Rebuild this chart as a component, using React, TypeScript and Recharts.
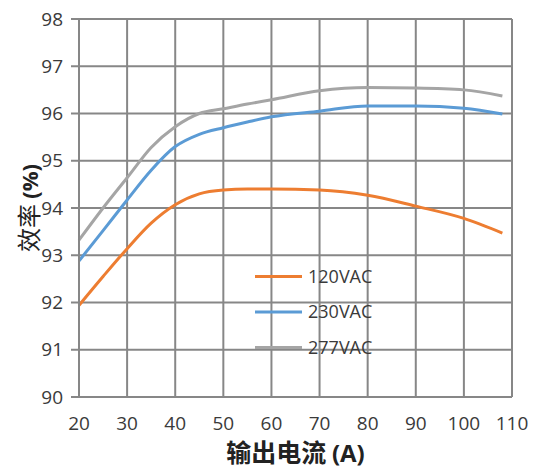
import React from 'react';
import { LineChart, Line, XAxis, YAxis, CartesianGrid, Legend, Label } from 'recharts';

const currents = [20, 25, 30, 35, 40, 45, 50, 55, 60, 70, 80, 90, 100, 108];
const eff120 = [91.94, 92.55, 93.14, 93.68, 94.07, 94.3, 94.38, 94.4, 94.4, 94.38, 94.27, 94.04, 93.78, 93.47];
const eff230 = [92.88, 93.52, 94.17, 94.8, 95.3, 95.56, 95.7, 95.82, 95.93, 96.05, 96.16, 96.16, 96.11, 95.99];
const eff277 = [93.32, 94.0, 94.64, 95.28, 95.72, 96.0, 96.1, 96.2, 96.29, 96.48, 96.55, 96.54, 96.5, 96.37];
const xTicks = [20, 30, 40, 50, 60, 70, 80, 90, 100, 110];
const yTicks = [90, 91, 92, 93, 94, 95, 96, 97, 98];
const seriesNames = ['120VAC', '230VAC', '277VAC'];

const chartData = currents.map((c, i) => ({
  current: c,
  v120: eff120[i],
  v230: eff230[i],
  v277: eff277[i],
}));

const GRID = '#878787';
const TEXT = '#3a3a3a';

const renderLegend = (props: any) => {
  const payload = props.payload || [];
  return (
    <svg width={150} height={110} style={{ overflow: 'visible', display: 'block' }}>
      {payload.map((p: any, i: number) => {
        const y = 18.5 + i * 35.5;
        return (
          <g key={i}>
            <line x1={5} x2={52} y1={y} y2={y} stroke={p.color} strokeWidth={3} />
            <text x={58} y={y} dy="0.36em" fontFamily="Open Sans" fontSize={18} fill={TEXT}>
              {p.value}
            </text>
          </g>
        );
      })}
    </svg>
  );
};

const XTitle = (props: any) => {
  const vb = props.viewBox || { x: 0, y: 0, width: 0, height: 0 };
  const cx = vb.x + vb.width / 2;
  return (
    <text x={cx} y={vb.y + 57} dy="0.35em" textAnchor="middle" fill="#222" style={{ fontSize: 24 }}>
      <tspan style={{ fontFamily: 'Noto Sans CJK SC', fontWeight: 'bold', fontSize: 25 }}>输出电流 </tspan>
      <tspan style={{ fontFamily: 'Open Sans', fontWeight: 'bold', fontSize: 24 }}>(A)</tspan>
    </text>
  );
};

const YTitle = (props: any) => {
  const vb = props.viewBox || { x: 0, y: 0, width: 0, height: 0 };
  const cy = vb.y + vb.height / 2;
  const cx = 30;
  return (
    <text x={cx} y={cy} dy="0.35em" textAnchor="middle" fill="#222" transform={`rotate(-90 ${cx} ${cy})`} style={{ fontSize: 22 }}>
      <tspan style={{ fontFamily: 'Noto Sans CJK SC', fontSize: 24 }}>效率 </tspan>
      <tspan style={{ fontFamily: 'Open Sans', fontWeight: 'bold', fontSize: 22 }}>(%)</tspan>
    </text>
  );
};

export default function App() {
  return (
    <div style={{ position: 'absolute', left: 0, top: 0, background: '#fff' }}>
      <LineChart width={539} height={473} data={chartData} margin={{ top: 19, right: 27, bottom: 0, left: 0 }}>
        <CartesianGrid stroke={GRID} strokeWidth={2} />
        <XAxis
          dataKey="current"
          type="number"
          domain={[20, 110]}
          ticks={xTicks}
          height={76}
          axisLine={{ stroke: GRID, strokeWidth: 2 }}
          tickLine={false}
          tickSize={0}
          tickMargin={20}
          tick={{ fill: TEXT, fontSize: 19, fontFamily: 'Open Sans' }}
          interval={0}
        >
          <Label content={<XTitle />} />
        </XAxis>
        <YAxis
          type="number"
          domain={[90, 98]}
          ticks={yTicks}
          width={79}
          axisLine={{ stroke: GRID, strokeWidth: 2 }}
          tickLine={{ stroke: GRID, strokeWidth: 2 }}
          tickSize={8}
          tickMargin={8}
          tick={{ fill: TEXT, fontSize: 19, fontFamily: 'Open Sans' }}
          interval={0}
        >
          <Label content={<YTitle />} />
        </YAxis>
        <Legend
          layout="vertical"
          align="center"
          verticalAlign="middle"
          content={renderLegend}
          wrapperStyle={{ left: 250, top: 258, width: 150, height: 110, bottom: 'auto', right: 'auto' }}
        />
        <Line type="monotone" dataKey="v120" name={seriesNames[0]} stroke="#ED7D31" strokeWidth={3} dot={false} isAnimationActive={false} />
        <Line type="monotone" dataKey="v230" name={seriesNames[1]} stroke="#5B9BD5" strokeWidth={3} dot={false} isAnimationActive={false} />
        <Line type="monotone" dataKey="v277" name={seriesNames[2]} stroke="#A5A5A5" strokeWidth={3} dot={false} isAnimationActive={false} />
      </LineChart>
    </div>
  );
}
